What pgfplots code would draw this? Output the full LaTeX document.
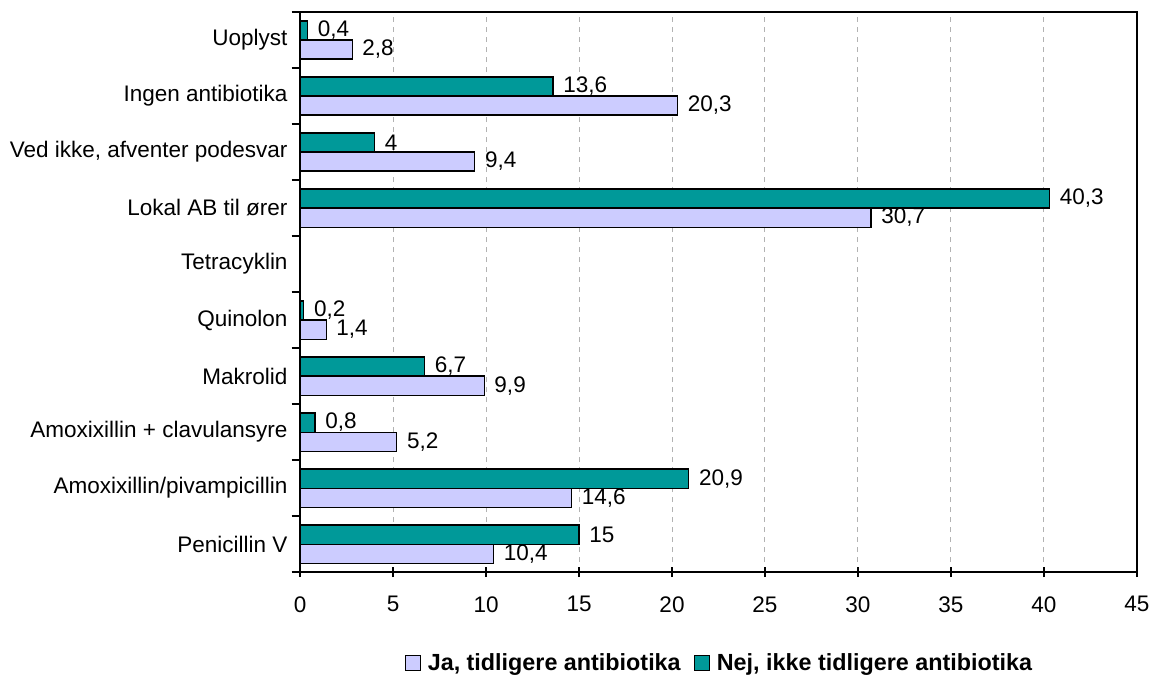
\documentclass[border=0pt]{standalone}
\usepackage{fontspec}
\setmainfont{Liberation Sans}
\usepackage{pgfplots}
\pgfplotsset{compat=1.18}
\definecolor{ja}{HTML}{CCCCFF}
\definecolor{nej}{HTML}{009999}

\begin{document}
\begin{tikzpicture}[font=\fontsize{13.5}{16}\selectfont]
\begin{axis}[
    scale only axis,
    width=502pt,
    height=336pt,
    xbar,
    bar width=0.34,
    xmin=0, xmax=45,
    ymin=-0.5, ymax=9.5,
    xtick={0,5,...,45},
    ytick={0,...,9},
    yticklabels={Penicillin V,Amoxixillin/pivampicillin,Amoxixillin + clavulansyre,Makrolid,Quinolon,Tetracyklin,{Lokal AB til ører},{Ved ikke, afventer podesvar},Ingen antibiotika,Uoplyst},
    minor ytick={-0.5,0.5,...,9.5},
    major y tick style={draw=none},
    minor y tick style={black, line width=0.9pt},
    minor tick length=5pt,
    x tick style={black, line width=0.9pt},
    xtick align=center,
    major tick length=6pt,
    ytick pos=left,
    xtick pos=bottom,
    yticklabel style={xshift=2pt},
    xticklabel style={yshift=-8pt},
    xmajorgrids,
    grid style={dashed, gray!60, line width=0.6pt},
    axis line style={black, line width=0.9pt},
    /pgf/number format/assume math mode=true,
    /pgf/number format/use comma,
    nodes near coords,
    nodes near coords style={anchor=west, xshift=2.5pt, font=\fontsize{13.5}{16}\selectfont},
    legend style={at={(0.5,0)}, anchor=center, xshift=1pt, yshift=-54.6pt, draw=none,
        legend columns=2, font=\fontsize{14}{16}\selectfont\bfseries,
        /tikz/every even column/.append style={column sep=6pt},
        /tikz/every odd column/.append style={column sep=2pt}},
    legend image code/.code={\draw[#1, draw=black, line width=0.6pt] (0cm,-0.16cm) rectangle (0.32cm,0.16cm);},
]
\addplot[fill=ja, draw=black, line width=0.7pt, bar shift=-0.17] coordinates {
    (10.4,0) (14.6,1) (5.2,2) (9.9,3) (1.4,4) (30.7,6) (9.4,7) (20.3,8) (2.8,9)};
\addplot[fill=nej, draw=black, line width=0.7pt, bar shift=0.17] coordinates {
    (15,0) (20.9,1) (0.8,2) (6.7,3) (0.2,4) (40.3,6) (4,7) (13.6,8) (0.4,9)};
\legend{{Ja, tidligere antibiotika}, {Nej, ikke tidligere antibiotika}}
\coordinate (bl) at (rel axis cs:0,0);
\coordinate (tr) at (rel axis cs:1,1);
\end{axis}
\path[use as bounding box] ([shift={(-180pt,-65.4pt)}]bl) rectangle ([shift={(10.8pt,7.2pt)}]tr);
\end{tikzpicture}
\end{document}
